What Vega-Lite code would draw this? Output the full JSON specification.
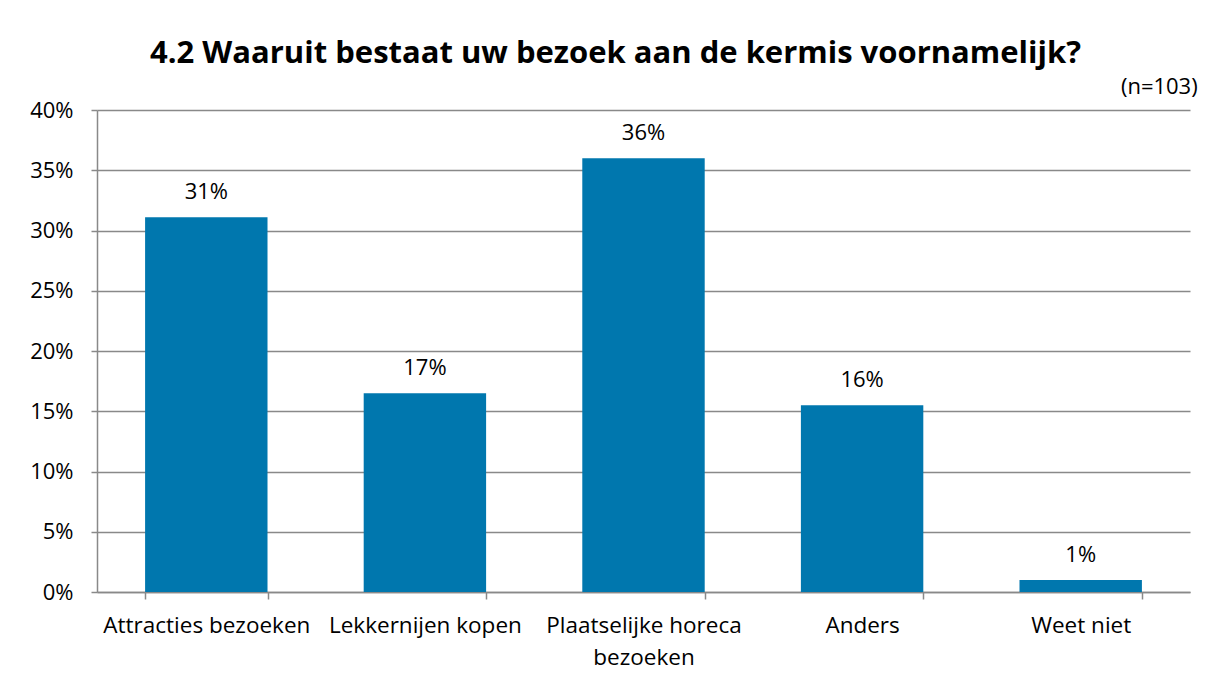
{
  "$schema": "https://vega.github.io/schema/vega-lite/v6.json",
  "width": 1093,
  "height": 482,
  "autosize": {"type": "none"},
  "padding": {"left": 97, "top": 110, "right": 24, "bottom": 90},
  "background": "white",
  "title": {
    "text": "4.2 Waaruit bestaat uw bezoek aan de kermis voornamelijk?",
    "font": "Open Sans",
    "fontSize": 31,
    "fontWeight": "bold",
    "color": "#000000",
    "anchor": "middle",
    "dx": -28,
    "offset": 6
  },
  "data": {
    "values": [
      {"categorie": "Attracties bezoeken", "aandeel": 0.311, "label": "31%"},
      {"categorie": "Lekkernijen kopen", "aandeel": 0.165, "label": "17%"},
      {"categorie": "Plaatselijke horeca bezoeken", "aandeel": 0.36, "label": "36%"},
      {"categorie": "Anders", "aandeel": 0.155, "label": "16%"},
      {"categorie": "Weet niet", "aandeel": 0.01, "label": "1%"}
    ]
  },
  "encoding": {
    "x": {
      "field": "categorie",
      "type": "nominal",
      "sort": null,
      "scale": {"paddingInner": 0.44, "paddingOuter": 0.22},
      "axis": {
        "title": null,
        "labelAngle": 0,
        "labelFont": "Open Sans",
        "labelFontSize": 22.5,
        "labelColor": "#000000",
        "labelPadding": 15,
        "labelLineHeight": 32,
        "labelLimit": 400,
        "labelOverlap": false,
        "labelExpr": "datum.label == 'Plaatselijke horeca bezoeken' ? ['Plaatselijke horeca', 'bezoeken'] : datum.label",
        "domainColor": "#898989",
        "domainWidth": 1.5,
        "tickColor": "#898989",
        "tickWidth": 1.5,
        "tickSize": 7,
        "tickBand": "extent",
        "grid": false
      }
    },
    "y": {
      "field": "aandeel",
      "type": "quantitative",
      "scale": {"domain": [0, 0.4], "nice": false},
      "axis": {
        "title": null,
        "format": ".0%",
        "values": [0, 0.05, 0.1, 0.15, 0.2, 0.25, 0.3, 0.35, 0.4],
        "labelFont": "Open Sans",
        "labelFontSize": 22,
        "labelColor": "#000000",
        "labelPadding": 18,
        "domainColor": "#898989",
        "domainWidth": 1.5,
        "tickColor": "#898989",
        "tickWidth": 1.5,
        "tickSize": 6,
        "grid": true,
        "gridColor": "#898989",
        "gridWidth": 1.5
      }
    }
  },
  "layer": [
    {"mark": {"type": "bar", "color": "#0077ae"}},
    {
      "mark": {"type": "text", "font": "Open Sans", "fontSize": 22, "color": "#000000", "baseline": "bottom", "dy": -13},
      "encoding": {"text": {"field": "label"}}
    },
    {
      "data": {"values": [{"n": "(n=103)", "pos": "Weet niet", "hoogte": 0.4}]},
      "mark": {"type": "text", "font": "Open Sans", "fontSize": 22, "color": "#000000", "align": "right", "baseline": "bottom", "dx": 117, "dy": -11},
      "encoding": {
        "x": {"field": "pos", "type": "nominal"},
        "y": {"field": "hoogte", "type": "quantitative"},
        "text": {"field": "n"}
      }
    }
  ],
  "config": {"view": {"stroke": null}}
}
